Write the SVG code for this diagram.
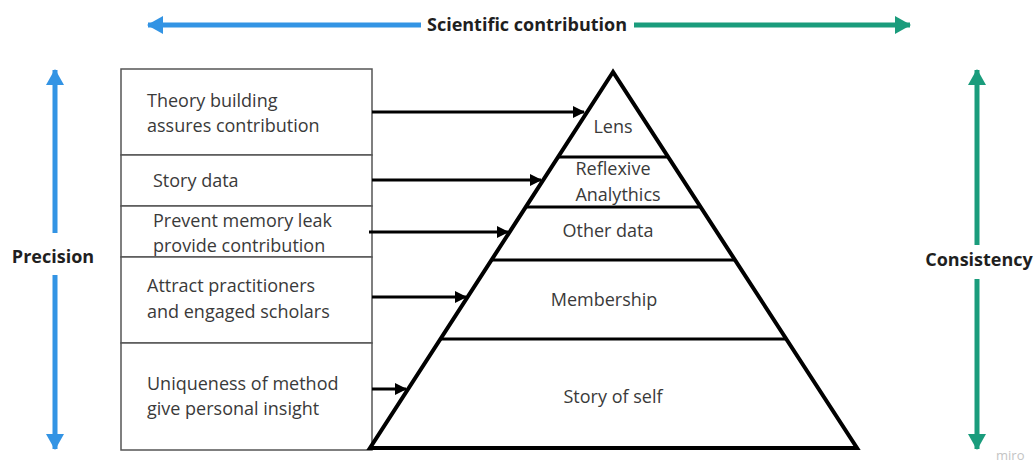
<svg xmlns="http://www.w3.org/2000/svg" width="1036" height="463" viewBox="0 0 1036 463">
  <defs>
    <style>
      .axis-label { font-family: "Open Sans", "Liberation Sans", sans-serif; font-weight: bold; font-size: 18px; fill: #1f1f1f; }
      .box-text { font-family: "Open Sans", "Liberation Sans", sans-serif; font-size: 18px; fill: #3a3a3a; }
      .tier-text { font-family: "Open Sans", "Liberation Sans", sans-serif; font-size: 18px; fill: #3a3a3a; text-anchor: middle; }
      .box { fill: #ffffff; stroke: #555555; stroke-width: 1.5; }
      .tier-line { stroke: #000000; stroke-width: 3; }
      .link { stroke: #000000; stroke-width: 3; fill: none; marker-end: url(#head-black); }
      .blue { stroke: #3394e4; stroke-width: 5; fill: none; }
      .green { stroke: #1a9c7c; stroke-width: 5; fill: none; }
    </style>
    <marker id="head-black" viewBox="0 0 12 12" refX="11" refY="6" markerWidth="12" markerHeight="12" markerUnits="userSpaceOnUse" orient="auto">
      <path d="M0,0 L12,6 L0,12 z" fill="#000000"/>
    </marker>
    <marker id="head-blue" viewBox="0 0 16 18" refX="15" refY="9" markerWidth="16" markerHeight="18" markerUnits="userSpaceOnUse" orient="auto">
      <path d="M0,0 L16,9 L0,18 z" fill="#3394e4"/>
    </marker>
    <marker id="head-green" viewBox="0 0 16 18" refX="15" refY="9" markerWidth="16" markerHeight="18" markerUnits="userSpaceOnUse" orient="auto">
      <path d="M0,0 L16,9 L0,18 z" fill="#1a9c7c"/>
    </marker>
  </defs>

  <rect width="1036" height="463" fill="#ffffff"/>

  <!-- axes -->
  <g id="axis-scientific-contribution">
    <line class="blue" x1="421" y1="25" x2="148" y2="25" marker-end="url(#head-blue)"/>
    <line class="green" x1="634" y1="25" x2="910" y2="25" marker-end="url(#head-green)"/>
    <text class="axis-label" x="527" y="31" text-anchor="middle">Scientific contribution</text>
  </g>
  <g id="axis-precision">
    <line class="blue" x1="55" y1="233" x2="55" y2="70" marker-end="url(#head-blue)"/>
    <line class="blue" x1="55" y1="275" x2="55" y2="449" marker-end="url(#head-blue)"/>
    <text class="axis-label" x="53" y="263" text-anchor="middle">Precision</text>
  </g>
  <g id="axis-consistency">
    <line class="green" x1="977" y1="245" x2="977" y2="70" marker-end="url(#head-green)"/>
    <line class="green" x1="977" y1="279" x2="977" y2="449" marker-end="url(#head-green)"/>
    <text class="axis-label" x="979" y="266" text-anchor="middle">Consistency</text>
  </g>

  <!-- left column of statements -->
  <g id="box-theory">
    <rect class="box" x="121" y="69" width="251" height="86"/>
    <text class="box-text" x="147" y="107">Theory building</text>
    <text class="box-text" x="147" y="132">assures contribution</text>
  </g>
  <g id="box-story-data">
    <rect class="box" x="121" y="155" width="251" height="51"/>
    <text class="box-text" x="153" y="187">Story data</text>
  </g>
  <g id="box-memory">
    <rect class="box" x="121" y="206" width="251" height="51"/>
    <text class="box-text" x="153" y="227">Prevent memory leak</text>
    <text class="box-text" x="153" y="252">provide contribution</text>
  </g>
  <g id="box-practitioners">
    <rect class="box" x="121" y="257" width="251" height="86"/>
    <text class="box-text" x="147" y="292">Attract practitioners</text>
    <text class="box-text" x="147" y="318">and engaged scholars</text>
  </g>
  <g id="box-uniqueness">
    <rect class="box" x="121" y="343" width="251" height="107"/>
    <text class="box-text" x="147" y="390">Uniqueness of method</text>
    <text class="box-text" x="147" y="415">give personal insight</text>
  </g>

  <!-- pyramid -->
  <g id="pyramid">
    <polygon points="613,72 370,448 857,448" fill="#ffffff" stroke="#000000" stroke-width="4" stroke-linejoin="miter"/>
    <line class="tier-line" x1="558" y1="157" x2="668" y2="157"/>
    <line class="tier-line" x1="526" y1="207" x2="701" y2="207"/>
    <line class="tier-line" x1="492" y1="260" x2="735" y2="260"/>
    <line class="tier-line" x1="441" y1="339" x2="787" y2="339"/>
  </g>
  <g id="tier-lens">
    <text class="tier-text" x="613" y="133">Lens</text>
  </g>
  <g id="tier-reflexive">
    <text class="tier-text" x="613" y="175">Reflexive</text>
    <text class="tier-text" x="618" y="201">Analythics</text>
  </g>
  <g id="tier-other-data">
    <text class="tier-text" x="608" y="237">Other data</text>
  </g>
  <g id="tier-membership">
    <text class="tier-text" x="604" y="306">Membership</text>
  </g>
  <g id="tier-story-of-self">
    <text class="tier-text" x="613" y="403">Story of self</text>
  </g>

  <!-- connectors from statements to tiers -->
  <g id="connectors">
    <line class="link" x1="372" y1="112" x2="584" y2="112"/>
    <line class="link" x1="372" y1="180" x2="541" y2="180"/>
    <line class="link" x1="369" y1="232" x2="508" y2="232"/>
    <line class="link" x1="372" y1="297" x2="466" y2="297"/>
    <line class="link" x1="372" y1="389" x2="406" y2="389"/>
  </g>

  <text x="996" y="460" font-family="Open Sans, Liberation Sans, sans-serif" font-size="13" fill="#c4c4c4">miro</text>
</svg>
